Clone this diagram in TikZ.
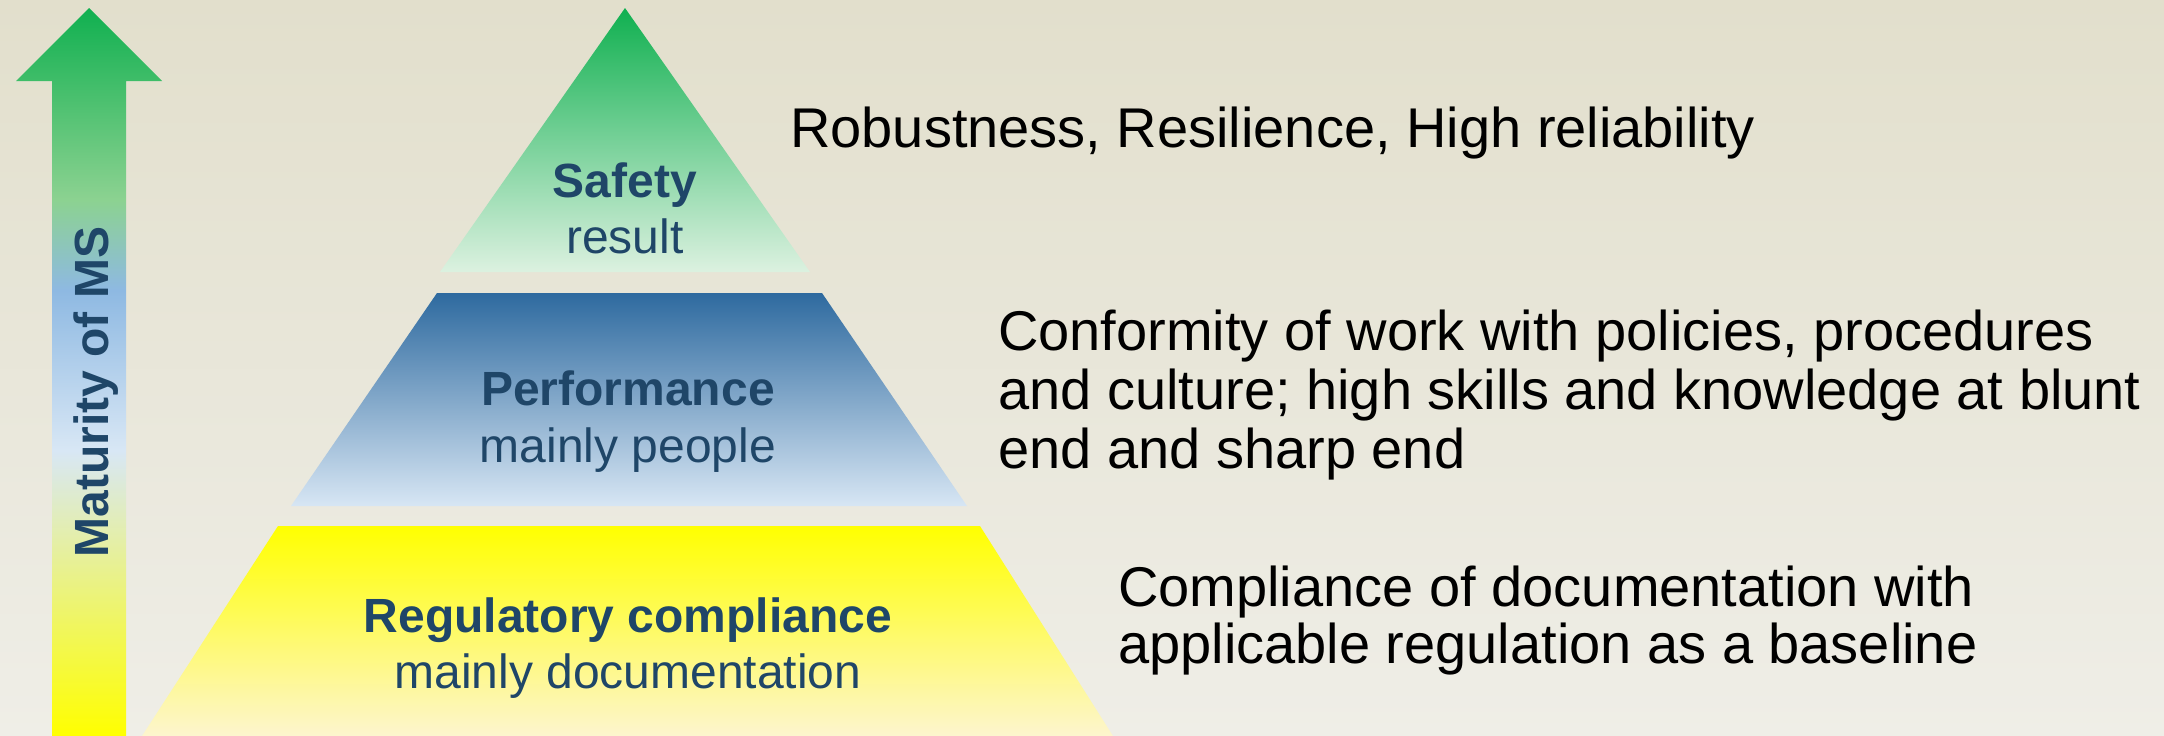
\documentclass[tikz,border=0pt]{standalone}
\usepackage{fontspec}
\setmainfont{Liberation Sans}
\definecolor{bgtop}{RGB}{226,223,204}
\definecolor{bgbot}{RGB}{239,238,231}
\definecolor{navy}{RGB}{31,70,104}
\definecolor{sgreen}{RGB}{16,176,80}
\definecolor{sgreenlt}{RGB}{220,241,224}
\definecolor{pblue}{RGB}{46,106,159}
\definecolor{pbluelt}{RGB}{215,230,244}
\definecolor{ryellow}{RGB}{255,255,0}
\definecolor{rcream}{RGB}{253,245,206}
\definecolor{agreenlt}{RGB}{140,210,145}
\definecolor{ablue}{RGB}{142,185,226}
\definecolor{abluelt}{RGB}{216,231,245}
\pgfdeclareverticalshading{arrowshade}{100bp}{color(0bp)=(ryellow); color(25bp)=(ryellow); color(44.6bp)=(abluelt); color(55.6bp)=(ablue); color(61.8bp)=(agreenlt); color(75bp)=(sgreen); color(100bp)=(sgreen)}
\tikzset{
  lvlhead/.style={anchor=base, inner sep=0pt, text=navy, font=\fontsize{48}{56}\selectfont\bfseries},
  lvlsub/.style={anchor=base, inner sep=0pt, text=navy, font=\fontsize{48}{56}\selectfont},
  note/.style={anchor=base west, inner sep=0pt, text=black, font=\fontsize{56}{58}\selectfont},
  arrowlabel/.style={anchor=base, inner sep=0pt, rotate=90, text=navy, font=\fontsize{48}{56}\selectfont\bfseries}
}
\begin{document}
\begin{tikzpicture}[x=1pt,y=-1pt]
\useasboundingbox (0,0) rectangle (2164,736);
\shade[top color=bgtop, bottom color=bgbot] (0,0) rectangle (2164,736);

% maturity arrow
\shade[shading=arrowshade] (89,8) -- (162,81) -- (126,81) -- (126,736) -- (52,736) -- (52,81) -- (16,81) -- cycle;
\node[arrowlabel] (maturity) at (108,392) {Maturity of MS};

% pyramid levels
\shade[top color=sgreen, bottom color=sgreenlt] (625,8) -- (810,272) -- (440,272) -- cycle;
\shade[top color=pblue, bottom color=pbluelt] (437,293) -- (822,293) -- (967,506) -- (291,506) -- cycle;
\shade[top color=ryellow, bottom color=rcream] (278,526) -- (980,526) -- (1113,736) -- (142,736) -- cycle;

\node[lvlhead] (safety) at (625,197) {Safety};
\node[lvlsub] (safetysub) at (625,253) {result};
\node[lvlhead] (perf) at (628,405) {Performance};
\node[lvlsub] (perfsub) at (628,462) {mainly people};
\node[lvlhead] (reg) at (628,632) {Regulatory compliance};
\node[lvlsub] (regsub) at (628,688) {mainly documentation};

% descriptions
\node[note] (robust) at (790,147) {Robustness, Resilience, High reliability};
\node[note] (conf1) at (998,350) {Conformity of work with policies, procedures};
\node[note] (conf2) at (998,409) {and culture; high skills and knowledge at blunt};
\node[note] (conf3) at (998,468) {end and sharp end};
\node[note] (comp1) at (1118,606) {Compliance of documentation with};
\node[note] (comp2) at (1118,663) {applicable regulation as a baseline};
\end{tikzpicture}
\end{document}
